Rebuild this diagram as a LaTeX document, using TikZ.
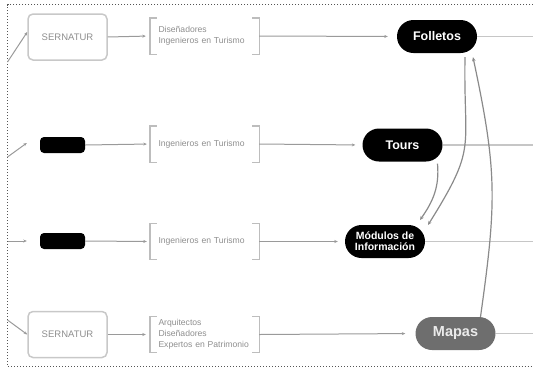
\documentclass[tikz,border=0pt]{standalone}
\usepackage{fontspec}
\setmainfont{Liberation Sans}
\usetikzlibrary{arrows.meta,shapes.misc}
\definecolor{lnc}{HTML}{9A9A9A}
\definecolor{crv}{HTML}{8A8A8A}
\definecolor{outc}{HTML}{C6C6C6}
\definecolor{boxc}{HTML}{C8C8C8}
\definecolor{brkc}{HTML}{BDBDBD}
\definecolor{txtc}{HTML}{8E8E8E}
\definecolor{mapc}{HTML}{6E6E6E}
\definecolor{framec}{HTML}{555555}
\begin{document}
\begin{tikzpicture}[x=1pt,y=-1pt,
  sbox/.style={draw=boxc, line width=1.5pt, rounded corners=5pt, minimum width=79pt, minimum height=46pt, inner sep=0pt, text=txtc, font=\fontsize{9.5}{11}\selectfont},
  kbox/.style={fill=black, rounded corners=4pt, minimum width=45pt, minimum height=16pt, inner sep=0pt},
  brk/.style={text width=92pt, inner xsep=8.5pt, inner ysep=0pt, minimum height=36pt, align=left, text=txtc, font=\fontsize{8.6}{10.8}\selectfont},
  brkline/.style={draw=brkc, line width=1.4pt},
  pill/.style={rounded rectangle, fill=black, text=white, minimum width=80pt, minimum height=33pt, inner sep=0pt, align=center, font=\bfseries\fontsize{12.5}{13}\selectfont},
  arr/.style={draw=lnc, line width=1pt, -{Stealth[length=3.5pt,width=3pt]}},
  carr/.style={draw=crv, line width=1.2pt, -{Stealth[length=4pt,width=3.5pt]}},
  outl/.style={draw=outc, line width=1.8pt},
  frame/.style={draw=framec, line width=0.9pt, dash pattern=on 0.9pt off 2.1pt}
]
\useasboundingbox (0,0) rectangle (533,368);
% frame
\coordinate (fa) at (533,4.5);
\coordinate (fb) at (7.5,4.5);
\coordinate (fc) at (7.5,366);
\coordinate (fd) at (533,366);
\draw[frame] (fa) -- (fb) -- (fc) -- (fd);

% left column
\node[sbox] (s1) at (67.5,37) {SERNATUR};
\node[kbox] (k2) at (62.5,145) {};
\node[kbox] (k3) at (62.5,241) {};
\node[sbox] (s4) at (67.5,334.5) {SERNATUR};

% bracket groups
\node[brk] (b1) at (204.5,36) {Diseñadores\\Ingenieros en Turismo};
\node[brk] (b2) at (204.5,144) {Ingenieros en Turismo};
\node[brk] (b3) at (204.5,241.5) {Ingenieros en Turismo};
\node[brk] (b4) at (204.5,334.5) {Arquitectos\\Diseñadores\\Expertos en Patrimonio};
\foreach \b in {b1,b2,b3,b4}{
  \draw[brkline] ([xshift=7pt]\b.north west) -- (\b.north west) -- (\b.south west) -- ([xshift=7pt]\b.south west);
  \draw[brkline] ([xshift=-7pt]\b.north east) -- (\b.north east) -- (\b.south east) -- ([xshift=-7pt]\b.south east);
}

% products
\node[pill] (fol) at (437,36.5) {Folletos};
\node[pill] (tou) at (402.5,145) {Tours};
\node[pill, font=\bfseries\fontsize{10.5}{11}\selectfont] (mod) at (385,241.5) {Módulos de\\Información};
\node[pill, fill=mapc, text=white!92!black, font=\bfseries\fontsize{14.5}{15}\selectfont] (map) at (455.5,333.5) {Mapas};

% incoming lines
\coordinate (i1) at (7.5,62);
\coordinate (i2) at (7.5,157);
\coordinate (i3) at (7.5,241);
\coordinate (i4) at (7.5,320);
\draw[arr] (i1) -- ([yshift=5pt]s1.west);
\draw[arr] (i2) -- ([xshift=-13pt,yshift=2pt]k2.west);
\draw[arr] (i3) -- ([xshift=-13pt]k3.west);
\draw[arr] (i4) -- (s4.west);

% row arrows
\draw[arr, shorten >=4pt] (s1.east) -- (b1.west);
\draw[arr, shorten >=3pt] (k2.east) -- (b2.west);
\draw[arr, shorten >=3pt] (k3.east) -- (b3.west);
\draw[arr, shorten >=4pt] (s4.east) -- (b4.west);
\draw[arr, shorten >=9pt] (b1.east) -- (fol.west);
\draw[arr, shorten >=7pt] (b2.east) -- (tou.west);
\draw[arr, shorten >=7pt] (b3.east) -- (mod.west);
\draw[arr, shorten >=10pt] (b4.east) -- (map.west);

% outgoing lines
\coordinate (o1) at (533,36.5);
\coordinate (o2) at (533,145);
\coordinate (o3) at (533,241.5);
\coordinate (o4) at (533,333.5);
\draw[outl] (fol.east) -- (o1);
\draw[outl] (tou.east) -- (o2);
\draw[outl] (mod.east) -- (o3);
\draw[outl] (map.east) -- (o4);

% curved links
\draw[carr] ([xshift=28pt,yshift=-4pt]fol.south) to[out=-91,in=58,looseness=1.4] ([xshift=43pt,yshift=16.5pt]mod.center);
\draw[carr] ([xshift=35pt,yshift=-2pt]tou.south) to[out=-85,in=55] ([xshift=35pt,yshift=21.5pt]mod.center);
\draw[carr] ([xshift=25pt]map.north) to[out=82,in=-78,looseness=1.15] ([xshift=36pt,yshift=-4pt]fol.south);
\end{tikzpicture}
\end{document}
